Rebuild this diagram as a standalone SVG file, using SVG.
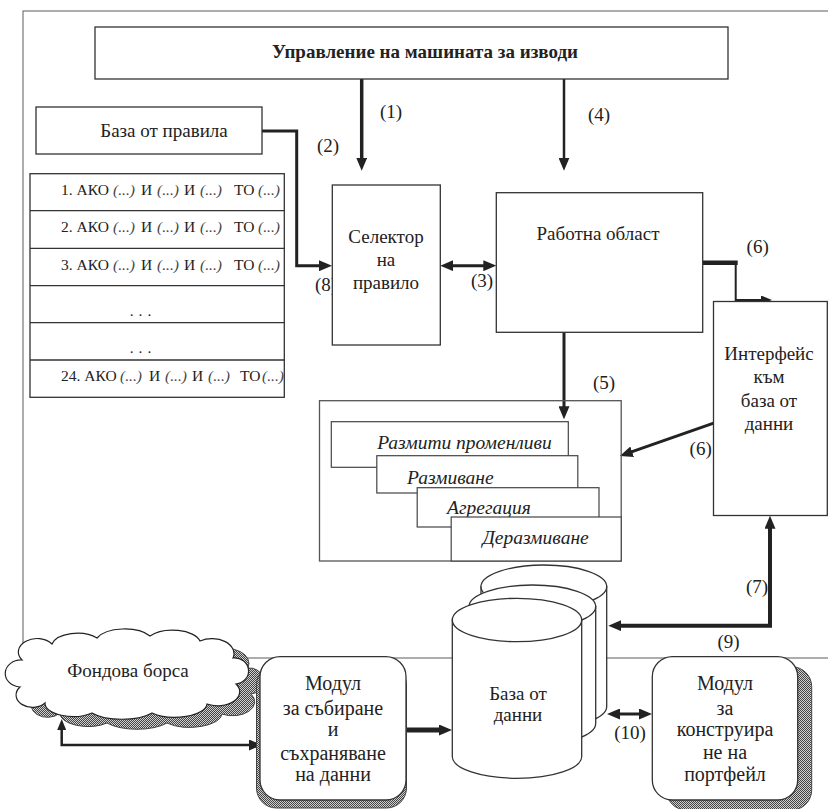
<svg xmlns="http://www.w3.org/2000/svg" width="828" height="809" viewBox="0 0 828 809">
<style>
.bx{fill:#fff;stroke:#333;stroke-width:1.3}
.card{fill:#fff;stroke:#444;stroke-width:1.2}
.t{font-family:"Liberation Serif","Times New Roman",serif;fill:#222;font-size:19px}
.tb{font-size:20px}
.tm{text-anchor:middle}
.i{font-style:italic;font-size:19.5px}
.lbl{font-family:"Liberation Serif","Times New Roman",serif;fill:#222;font-size:19px;text-anchor:middle}
.rl{font-family:"Liberation Serif","Times New Roman",serif;fill:#222;font-size:15.5px}
.ri{font-style:italic;fill:#444}
.c{fill:none;stroke:#222;stroke-linejoin:miter}
</style>
<defs>
<marker id="ah" viewBox="0 0 13 11" refX="3" refY="5.5" markerWidth="13" markerHeight="11" markerUnits="userSpaceOnUse" orient="auto-start-reverse">
<path d="M0,0 L13,5.5 L0,11 z" fill="#222"/>
</marker>
<marker id="as" viewBox="0 0 11 9" refX="3" refY="4.5" markerWidth="11" markerHeight="9" markerUnits="userSpaceOnUse" orient="auto-start-reverse">
<path d="M0,0 L11,4.5 L0,9 z" fill="#222"/>
</marker>
<pattern id="dots" width="2" height="2" patternUnits="userSpaceOnUse">
<rect width="2" height="2" fill="#d0d0d0"/>
<rect width="1" height="1" fill="#444"/>
<rect x="1" y="1" width="1" height="1" fill="#444"/>
</pattern>
<path id="cloud" d="M22,660 A18,13 0 0 1 52,644 A26,14 0 0 1 97,638 A30,15 0 0 1 150,636 A28,14 0 0 1 200,641 A22,15 0 0 1 233,658 A14,13 0 0 1 236,684 A22,14 0 0 1 207,704 A32,14 0 0 1 152,713 A36,14 0 0 1 92,713 A28,13 0 0 1 45,703 A16,12 0 0 1 20,687 A14,12 0 0 1 22,660 Z"/>
</defs>

<rect id="frame" x="23" y="11" width="830" height="647" fill="none" stroke="#777" stroke-width="1.2"/>

<g id="connectors">
<path class="c" d="M361.7,79 V160.7" stroke-width="3.5" marker-end="url(#ah)"/>
<path class="c" d="M564,79 V160.7" stroke-width="2.5" marker-end="url(#ah)"/>
<path class="c" d="M262,131 H296.7 V265.7 H322" stroke-width="3" marker-end="url(#ah)"/>
<path class="c" d="M450.3,265.7 H486.3" stroke-width="3" marker-start="url(#ah)" marker-end="url(#ah)"/>
<path class="c" d="M702.7,262.7 H737.7" stroke-width="4.5"/>
<path class="c" d="M735.7,262.7 V300 H764" stroke-width="2" marker-end="url(#as)"/>
<path class="c" d="M564,332.3 V409.3" stroke-width="3" marker-end="url(#ah)"/>
<path class="c" d="M715.8,422.3 L629.3,452.7" stroke-width="3" marker-end="url(#ah)"/>
<path class="c" d="M770,525.7 V625.7 H618.3" stroke-width="4" marker-start="url(#ah)" marker-end="url(#ah)"/>
<path class="c" d="M61.7,727 V745 H252" stroke-width="2.5" marker-start="url(#as)" marker-end="url(#ah)"/>
<path class="c" d="M406,730 H442" stroke-width="5" marker-end="url(#ah)"/>
<path class="c" d="M617,714 H642" stroke-width="3" marker-start="url(#ah)" marker-end="url(#ah)"/>
<text class="lbl" x="391" y="118">(1)</text>
<text class="lbl" x="328" y="152">(2)</text>
<text class="lbl" x="326" y="291">(8)</text>
<text class="lbl" x="482" y="287">(3)</text>
<text class="lbl" x="599" y="121">(4)</text>
<text class="lbl" x="757.7" y="252.7">(6)</text>
<text class="lbl" x="604" y="389">(5)</text>
<text class="lbl" x="700.7" y="455">(6)</text>
<text class="lbl" x="757" y="592.7">(7)</text>
<text class="lbl" x="728.6" y="647.7">(9)</text>
<text class="lbl" x="630" y="739.3">(10)</text>
</g>

<g id="control">
<rect class="bx" x="95" y="27" width="633" height="52"/>
<text class="t tm" x="425" y="57.5" font-weight="bold" font-size="19.5">Управление на машината за изводи</text>
</g>

<g id="rulebase">
<rect class="bx" x="36" y="107" width="226" height="47"/>
<text class="t tm" x="164" y="136.5">База от правила</text>
</g>

<g id="rules">
<rect class="bx" x="30" y="173.7" width="254.3" height="223.6"/>
<path d="M30,210.7 H284.3 M30,248.3 H284.3 M30,285.7 H284.3 M30,322.7 H284.3 M30,360 H284.3" stroke="#333" stroke-width="1.3"/>
<text class="rl" y="195"><tspan x="61">1. АКО</tspan><tspan class="ri" x="113">(...)</tspan><tspan x="141">И</tspan><tspan class="ri" x="157">(...)</tspan><tspan x="184">И</tspan><tspan class="ri" x="200">(...)</tspan><tspan x="234">ТО</tspan><tspan class="ri" x="258">(...)</tspan></text>
<text class="rl" y="232.3"><tspan x="61">2. АКО</tspan><tspan class="ri" x="113">(...)</tspan><tspan x="141">И</tspan><tspan class="ri" x="157">(...)</tspan><tspan x="184">И</tspan><tspan class="ri" x="200">(...)</tspan><tspan x="234">ТО</tspan><tspan class="ri" x="258">(...)</tspan></text>
<text class="rl" y="269.6"><tspan x="61">3. АКО</tspan><tspan class="ri" x="113">(...)</tspan><tspan x="141">И</tspan><tspan class="ri" x="157">(...)</tspan><tspan x="184">И</tspan><tspan class="ri" x="200">(...)</tspan><tspan x="234">ТО</tspan><tspan class="ri" x="258">(...)</tspan></text>
<text class="rl" x="143" y="316" text-anchor="middle" letter-spacing="5">...</text>
<text class="rl" x="143" y="352.7" text-anchor="middle" letter-spacing="5">...</text>
<text class="rl" y="381.3"><tspan x="61">24. АКО</tspan><tspan class="ri" x="120">(...)</tspan><tspan x="149">И</tspan><tspan class="ri" x="165">(...)</tspan><tspan x="192">И</tspan><tspan class="ri" x="208">(...)</tspan><tspan x="240">ТО</tspan><tspan class="ri" x="262">(...)</tspan></text>
</g>

<g id="selector">
<rect class="bx" x="332.3" y="185" width="108" height="160"/>
<text class="t tm" x="386" y="243">Селектор</text>
<text class="t tm" x="386" y="266">на</text>
<text class="t tm" x="386" y="289">правило</text>
</g>

<g id="workspace">
<rect class="bx" x="496.3" y="192.7" width="206.4" height="139.6"/>
<text class="t tm" x="598" y="240">Работна област</text>
</g>

<g id="interface">
<rect class="bx" x="713.5" y="301.5" width="113.8" height="214"/>
<text class="t tm" x="769" y="360">Интерфейс</text>
<text class="t tm" x="769" y="383">към</text>
<text class="t tm" x="769" y="407">база от</text>
<text class="t tm" x="769" y="430">данни</text>
</g>

<g id="fuzzy">
<rect x="319.5" y="400.7" width="301.7" height="160.3" fill="none" stroke="#555" stroke-width="1.3"/>
<rect class="card" x="331.3" y="421.7" width="237" height="45.6"/>
<text class="t tm i" x="464.5" y="449">Размити променливи</text>
<rect class="card" x="376.8" y="455.7" width="201" height="37.3"/>
<text class="t tm i" x="450.3" y="483.5">Размиване</text>
<rect class="card" x="417.2" y="487.7" width="181.8" height="39.3"/>
<text class="t tm i" x="489" y="514">Агрегация</text>
<rect class="card" x="451.2" y="517" width="170" height="44"/>
<text class="t tm i" x="535.6" y="544">Деразмиване</text>
</g>

<g id="exchange">
<use href="#cloud" transform="translate(15,10)" fill="url(#dots)" stroke="#444" stroke-width="1"/>
<use href="#cloud" fill="#fff" stroke="#222" stroke-width="1.2"/>
<text class="t tm" x="128" y="677">Фондова борса</text>
</g>

<g id="collector">
<rect x="256.5" y="664.7" width="150" height="143.3" rx="20" fill="url(#dots)" stroke="#444" stroke-width="1"/>
<rect class="bx" x="260" y="656.7" width="146" height="143.3" rx="20"/>
<text class="t tb tm" x="333" y="689.5">Модул</text>
<text class="t tb tm" x="333" y="714.5">за събиране</text>
<text class="t tb tm" x="333" y="736">и</text>
<text class="t tb tm" x="333" y="759.5">съхраняване</text>
<text class="t tb tm" x="333" y="781">на данни</text>
</g>

<g id="database">
<path class="bx" d="M481,586.5 V706.5 A62.85,21.5 0 0 0 606.7,706.5 V586.5 Z"/>
<ellipse class="bx" cx="543.85" cy="586.5" rx="62.85" ry="21.5"/>
<path class="bx" d="M469,606.5 V723.5 A63.35,21.5 0 0 0 595.7,723.5 V606.5 Z"/>
<ellipse class="bx" cx="532.35" cy="606.5" rx="63.35" ry="21.5"/>
<path class="bx" d="M452.3,620 V756.6 A64.7,21.7 0 0 0 581.7,756.6 V620 Z"/>
<ellipse class="bx" cx="517" cy="620" rx="64.7" ry="21.7"/>
<text class="t tm" x="518" y="699.5" font-size="18.5">База от</text>
<text class="t tm" x="518" y="721" font-size="18.5">данни</text>
</g>

<g id="portfolio">
<rect x="666.3" y="666.7" width="145.4" height="143.3" rx="20" fill="url(#dots)" stroke="#444" stroke-width="1"/>
<rect class="bx" x="652.3" y="656.7" width="145.4" height="143.3" rx="20"/>
<text class="t tb tm" x="725" y="689.5">Модул</text>
<text class="t tb tm" x="725" y="714.5">за</text>
<text class="t tb tm" x="725" y="736">конструира</text>
<text class="t tb tm" x="725" y="759">не на</text>
<text class="t tb tm" x="725" y="781">портфейл</text>
</g>
</svg>
